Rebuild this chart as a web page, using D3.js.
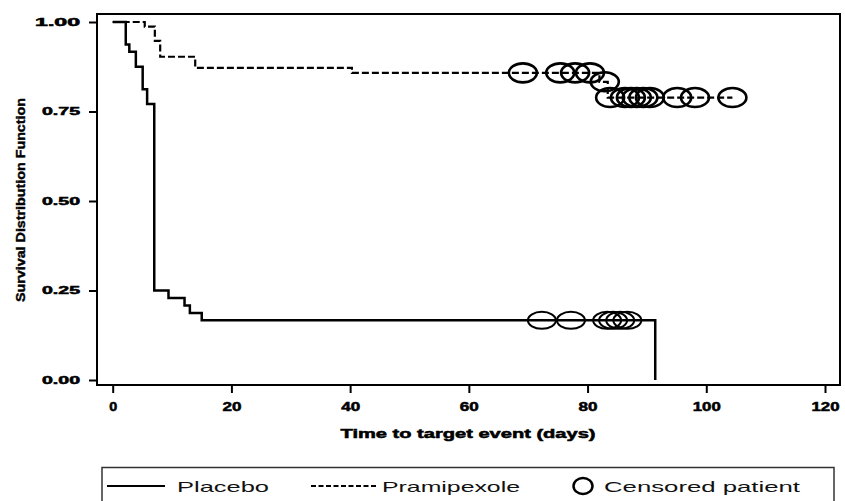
<!DOCTYPE html>
<html>
<head>
<meta charset="utf-8">
<script src="https://cdn.jsdelivr.net/npm/d3@7"></script>
<style>
  html, body { margin: 0; padding: 0; background: #fff; }
  svg { display: block; }
</style>
</head>
<body>
<svg id="chart" width="845" height="501"></svg>
<script>
// ---- data ----
const placeboTimes = [0, 2.2, 2.8, 3.9, 5.05, 5.8, 7.0, 9.4, 12.1, 13.0, 15.0, 91.4];
const placeboSurv  = [1, 0.9375, 0.9167, 0.875, 0.8125, 0.7708, 0.25, 0.2292, 0.2083, 0.1875, 0.1667, 0];
const pramTimes = [0, 5.4, 7.1, 8.0, 13.9, 40.3, 82.0, 83.4, 104.4];
const pramSurv  = [1, 0.987, 0.947, 0.903, 0.872, 0.858, 0.833, 0.789, 0.789];
const placeboCensored = [72.3, 77.2, 83.3, 84.3, 85.5, 86.7];
const pramCensored = [69.1, 75.4, 77.9, 80.4, 82.9, 83.8, 86.3, 87.3, 88.3, 89.4, 90.5, 95.1, 98.1, 104.4];
const xTicks = [0, 20, 40, 60, 80, 100, 120];
const yTicks = [0, 0.25, 0.5, 0.75, 1];
const xTitle = "Time to target event (days)";
const yTitle = "Survival Distribution Function";
const legendLabels = ["Placebo", "Pramipexole", "Censored patient"];

// ---- layout ----
const svg = d3.select("#chart");
const frame = {left: 97, top: 14, right: 840, bottom: 385};
const x = d3.scaleLinear().domain([0, 120]).range([112.7, 825]);
const y = d3.scaleLinear().domain([0, 1]).range([380, 22]);
const boldFont = "'Liberation Sans', Arial, sans-serif";

function survAt(times, surv, t) {
  let v = surv[0];
  for (let i = 0; i < times.length; i++) if (times[i] <= t) v = surv[i];
  return v;
}

// frame
svg.append("rect")
  .attr("x", frame.left).attr("y", frame.top)
  .attr("width", frame.right - frame.left).attr("height", frame.bottom - frame.top)
  .attr("fill", "none").attr("stroke", "#000").attr("stroke-width", 2);

// y axis
const yAxis = svg.append("g")
  .attr("transform", `translate(${frame.left},0)`)
  .call(d3.axisLeft(y).tickValues(yTicks).tickFormat(d3.format(".2f")).tickSize(8).tickSizeOuter(0));
yAxis.select(".domain").remove();
yAxis.selectAll(".tick line").attr("stroke", "#000").attr("stroke-width", 2);
yAxis.selectAll(".tick text")
  .attr("x", -17)
  .attr("font-family", boldFont).attr("font-weight", "bold").attr("font-size", 10)
  .attr("fill", "#000").attr("stroke", "#000").attr("stroke-width", 0.5)
  .attr("textLength", d => d === 1 ? 45 : 38)
  .attr("lengthAdjust", "spacingAndGlyphs");

// x axis
const xAxis = svg.append("g")
  .attr("transform", `translate(0,${frame.bottom})`)
  .call(d3.axisBottom(x).tickValues(xTicks).tickFormat(d3.format("d")).tickSize(8).tickSizeOuter(0));
xAxis.select(".domain").remove();
xAxis.selectAll(".tick line").attr("stroke", "#000").attr("stroke-width", 2);
xAxis.selectAll(".tick text")
  .attr("y", 17)
  .attr("font-family", boldFont).attr("font-weight", "bold").attr("font-size", 12)
  .attr("fill", "#000").attr("stroke", "#000").attr("stroke-width", 0.5)
  .attr("textLength", d => String(d).length === 1 ? 8 : String(d).length === 2 ? 19 : 28)
  .attr("lengthAdjust", "spacingAndGlyphs");

// axis titles
svg.append("text")
  .attr("x", 468).attr("y", 438)
  .attr("text-anchor", "middle")
  .attr("font-family", boldFont).attr("font-weight", "bold").attr("font-size", 12)
  .attr("stroke", "#000").attr("stroke-width", 0.5)
  .attr("textLength", 255).attr("lengthAdjust", "spacingAndGlyphs")
  .text(xTitle);

svg.append("text")
  .attr("transform", "translate(25,200) rotate(-90)")
  .attr("text-anchor", "middle")
  .attr("font-family", boldFont).attr("font-weight", "bold").attr("font-size", 12)
  .attr("stroke", "#000").attr("stroke-width", 0.4)
  .attr("textLength", 204).attr("lengthAdjust", "spacingAndGlyphs")
  .text(yTitle);

// survival curves
const line = d3.line().curve(d3.curveStepAfter).x(d => x(d[0])).y(d => y(d[1]));
svg.append("path")
  .datum(placeboTimes.map((t, i) => [t, placeboSurv[i]]))
  .attr("d", line).attr("fill", "none")
  .attr("stroke", "#000").attr("stroke-width", 2.5);
svg.append("path")
  .datum(pramTimes.map((t, i) => [t, pramSurv[i]]))
  .attr("d", line).attr("fill", "none")
  .attr("stroke", "#000").attr("stroke-width", 2.2).attr("stroke-dasharray", "7,3");

// censored markers
const rx = 14, ry = 9;
svg.append("g").selectAll("ellipse.pl")
  .data(placeboCensored).join("ellipse")
  .attr("cx", d => x(d)).attr("cy", d => y(survAt(placeboTimes, placeboSurv, d)))
  .attr("rx", rx).attr("ry", ry - 0.5)
  .attr("fill", "none").attr("stroke", "#000").attr("stroke-width", 2);
svg.append("g").selectAll("ellipse.pr")
  .data(pramCensored).join("ellipse")
  .attr("cx", d => x(d)).attr("cy", d => y(survAt(pramTimes, pramSurv, d)))
  .attr("rx", rx).attr("ry", ry + 0.5)
  .attr("fill", "none").attr("stroke", "#000").attr("stroke-width", 2.6);

// legend
const lg = svg.append("g");
lg.append("rect")
  .attr("x", 102).attr("y", 467.5).attr("width", 732).attr("height", 50)
  .attr("fill", "none").attr("stroke", "#333").attr("stroke-width", 1.5);
const ly = 486;
lg.append("line").attr("x1", 107).attr("x2", 165).attr("y1", ly).attr("y2", ly)
  .attr("stroke", "#000").attr("stroke-width", 2.2);
lg.append("line").attr("x1", 311).attr("x2", 378).attr("y1", ly).attr("y2", ly)
  .attr("stroke", "#000").attr("stroke-width", 2.2).attr("stroke-dasharray", "5,2.5");
lg.append("ellipse").attr("cx", 583).attr("cy", ly).attr("rx", 9.5).attr("ry", 8)
  .attr("fill", "none").attr("stroke", "#000").attr("stroke-width", 2.5);
const legendX = [177, 382, 604];
const legendW = [92, 138, 196];
lg.selectAll("text.leg").data(legendLabels).join("text")
  .attr("x", (d, i) => legendX[i]).attr("y", 491.5)
  .attr("font-family", "'Liberation Sans', Arial, sans-serif").attr("font-size", 15)
  .attr("fill", "#111")
  .attr("textLength", (d, i) => legendW[i]).attr("lengthAdjust", "spacingAndGlyphs")
  .text(d => d);
</script>
</body>
</html>
